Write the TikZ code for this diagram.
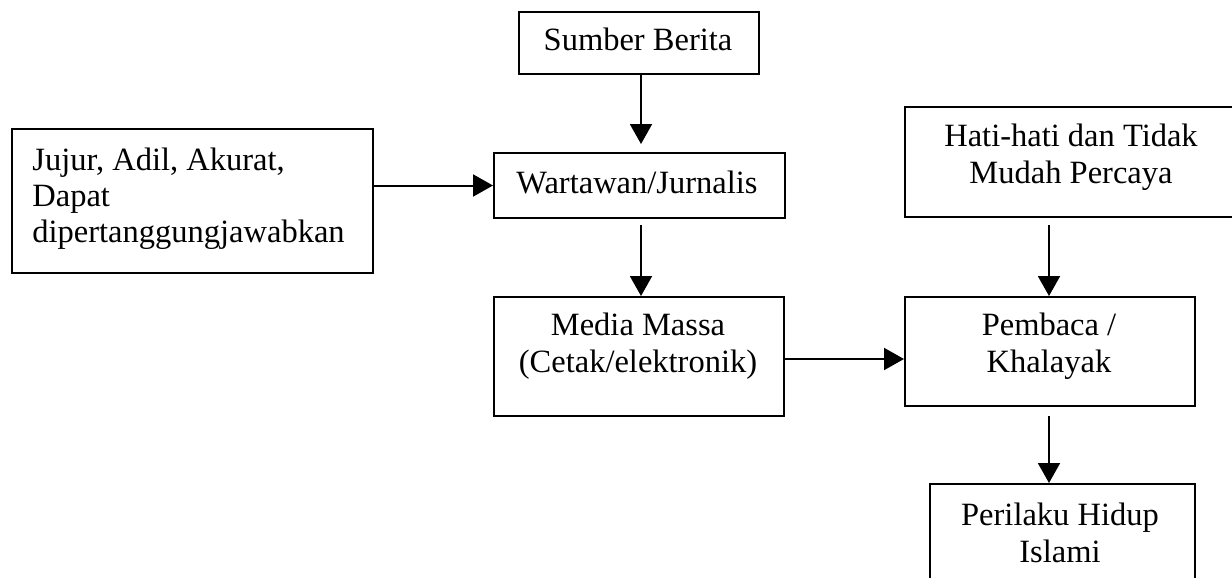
\documentclass[tikz,border=0pt]{standalone}
\usepackage{fontspec}
\setmainfont{Liberation Serif}
\usetikzlibrary{arrows.meta,calc}
\begin{document}
\begin{tikzpicture}[x=0.5pt,y=-0.5pt,
  boxst/.style={draw=black,line width=1pt,rectangle,inner sep=0pt},
  txt/.style={inner sep=0pt,align=center,font=\fontsize{16.25pt}{18.5pt}\selectfont},
  ltxt/.style={inner sep=0pt,align=left,font=\fontsize{16.25pt}{18pt}\selectfont},
  arr/.style={line width=1pt,-{Triangle[length=10pt,width=11pt]}}]
\useasboundingbox (0,0) rectangle (1232,578);
\clip (0,0) rectangle (1232,578);
% boxes
\node[boxst,minimum width=120pt,minimum height=31pt] (sumber) at (639,43) {};
\node[boxst,minimum width=180.5pt,minimum height=72pt] (jujur) at (192.5,201) {};
\node[boxst,minimum width=145.5pt,minimum height=32.5pt] (wartawan) at (639.5,185.5) {};
\node[boxst,minimum width=168pt,minimum height=55pt] (hati) at (1073,162) {};
\node[boxst,minimum width=145pt,minimum height=59.5pt] (media) at (639,356.5) {};
\node[boxst,minimum width=145pt,minimum height=54.5pt] (pembaca) at (1050,351.5) {};
\node[boxst,minimum width=132.5pt,minimum height=60pt] (perilaku) at (1062.5,544) {};
% texts (base anchor = baseline of last line)
\node[txt,anchor=base] (tsumber) at (638,50) {Sumber Berita};
\node[txt,anchor=base] (twartawan) at (637,193) {Wartawan/Jurnalis};
\node[ltxt,anchor=base west] (tjujur) at (32,242) {Jujur, Adil, Akurat,\\Dapat\\dipertanggungjawabkan};
\node[txt,anchor=base] (thati) at (1071,183) {Hati-hati dan Tidak\\Mudah Percaya};
\node[txt,anchor=base] (tmedia) at (638,372) {Media Massa\\(Cetak/elektronik)};
\node[txt,anchor=base] (tpembaca) at (1049,372) {Pembaca /\\Khalayak};
\node[txt,anchor=base] (tperilaku) at (1060,562) {Perilaku Hidup\\Islami};
% arrows
\draw[arr,shorten >=4pt] ($(sumber.south)+(2,0)$) -- ($(wartawan.north)+(1.5,0)$);
\draw[arr] (jujur.east |- wartawan.west) -- (wartawan.west);
\draw[arr,shorten <=3pt] ($(wartawan.south)+(1.5,0)$) -- ($(media.north)+(2,0)$);
\draw[arr] ($(media.east)+(0,2.5)$) -- ($(media.east -| pembaca.west)+(0,2.5)$);
\draw[arr,shorten <=3.5pt] ($(hati.south -| pembaca.north)+(-1,0)$) -- ($(pembaca.north)+(-1,0)$);
\draw[arr,shorten <=4.5pt] ($(pembaca.south)+(-1,0)$) -- ($(pembaca.south |- perilaku.north)+(-1,0)$);
\end{tikzpicture}
\end{document}
